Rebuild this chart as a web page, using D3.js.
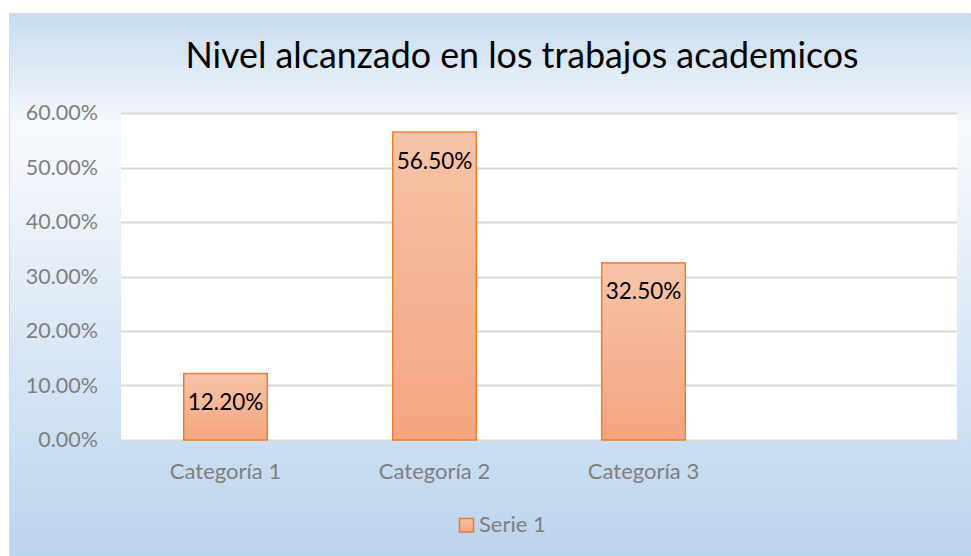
<!DOCTYPE html>
<html>
<head>
<meta charset="utf-8">
<script src="https://cdn.jsdelivr.net/npm/d3@7"></script>
<style>
  body { margin: 0; background: #fff; }
  #chart { width: 971px; height: 556px; }
  text { font-family: Lato, "Open Sans", sans-serif; }
</style>
</head>
<body>
<div id="chart"></div>
<script>
const categories = ["Categoría 1", "Categoría 2", "Categoría 3", ""];
const values = [0.122, 0.565, 0.325, null];
const yTicks = [0, 0.1, 0.2, 0.3, 0.4, 0.5, 0.6];
const seriesName = "Serie 1";
const title = "Nivel alcanzado en los trabajos academicos";

const W = 971, H = 556;
const plot = {left: 121, right: 957, top: 113, bottom: 440};

const svg = d3.select("#chart").append("svg")
    .attr("width", W)
    .attr("height", H);

const defs = svg.append("defs");
const bg = defs.append("linearGradient").attr("id", "bg")
    .attr("x1", 0).attr("y1", 0).attr("x2", 0).attr("y2", 1);
bg.append("stop").attr("offset", "0%").attr("stop-color", "#c7dcef");
bg.append("stop").attr("offset", "20%").attr("stop-color", "#f6f9fd");
bg.append("stop").attr("offset", "28%").attr("stop-color", "#f3f7fc");
bg.append("stop").attr("offset", "100%").attr("stop-color", "#b9d3ec");

const barGrad = defs.append("linearGradient").attr("id", "barGrad")
    .attr("x1", 0).attr("y1", 0).attr("x2", 0).attr("y2", 1);
barGrad.append("stop").attr("offset", "0%").attr("stop-color", "#f7c4a9");
barGrad.append("stop").attr("offset", "100%").attr("stop-color", "#f4a57f");

// chart area
svg.append("rect")
    .attr("x", 9.5).attr("y", 13.5)
    .attr("width", W).attr("height", H)
    .attr("fill", "url(#bg)")
    .attr("stroke", "#d9d9d9");

svg.append("rect")
    .attr("x", plot.left).attr("y", plot.top)
    .attr("width", plot.right - plot.left).attr("height", plot.bottom - plot.top)
    .attr("fill", "#fff");

const x = d3.scaleBand()
    .domain(categories)
    .range([plot.left, plot.right])
    .paddingInner(0.6)
    .paddingOuter(0.3);

const xCat = d3.scaleBand()
    .domain(categories)
    .range([plot.left, plot.right]);

const y = d3.scaleLinear()
    .domain([0, 0.6])
    .range([plot.bottom, plot.top]);

// gridlines
svg.append("g")
    .selectAll("line")
    .data(yTicks)
    .enter()
    .append("line")
    .attr("x1", plot.left).attr("x2", plot.right)
    .attr("y1", d => Math.round(y(d)) + 0.5)
    .attr("y2", d => Math.round(y(d)) + 0.5)
    .attr("stroke", "#d9d9d9")
    .attr("stroke-width", 2);

// y axis
const yAxis = svg.append("g")
    .attr("transform", `translate(${plot.left - 23},0)`)
    .call(d3.axisLeft(y).tickValues(yTicks).tickFormat(d3.format(".2%")).tickSize(0).tickPadding(0));
yAxis.select(".domain").remove();
yAxis.selectAll("text")
    .attr("fill", "#7f7f7f")
    .style("font-size", "21.5px")
    .style("font-family", "Lato, sans-serif");

// x axis
const xAxis = svg.append("g")
    .attr("transform", `translate(0,${plot.bottom})`)
    .call(d3.axisBottom(xCat).tickSize(0).tickPadding(23));
xAxis.select(".domain").remove();
xAxis.selectAll("text")
    .attr("fill", "#7f7f7f")
    .style("font-size", "22px")
    .style("font-family", "Lato, sans-serif");

// bars
const data = categories.map((c, i) => ({cat: c, value: values[i]})).filter(d => d.value != null);

svg.append("g")
    .selectAll("rect")
    .data(data)
    .enter()
    .append("rect")
    .attr("x", d => x(d.cat))
    .attr("y", d => y(d.value))
    .attr("width", x.bandwidth())
    .attr("height", d => y(0) - y(d.value))
    .attr("fill", "url(#barGrad)")
    .attr("stroke", "#ed7d31")
    .attr("stroke-width", 1.5);

svg.append("g")
    .selectAll("text")
    .data(data)
    .enter()
    .append("text")
    .attr("x", d => x(d.cat) + x.bandwidth() / 2)
    .attr("y", d => y(d.value) + 36.5)
    .attr("text-anchor", "middle")
    .attr("fill", "#000")
    .style("font-size", "22.5px")
    .text(d => d3.format(".2%")(d.value));

// title
svg.append("text")
    .attr("x", 522)
    .attr("y", 68)
    .attr("text-anchor", "middle")
    .attr("fill", "#000")
    .style("font-size", "35.8px")
    .text(title);

// legend
const legend = svg.append("g").attr("transform", "translate(459,518)");
legend.append("rect")
    .attr("x", 0.5).attr("y", 0.5)
    .attr("width", 14).attr("height", 13.5)
    .attr("fill", "url(#barGrad)")
    .attr("stroke", "#ed7d31")
    .attr("stroke-width", 1.5);
legend.append("text")
    .attr("x", 20)
    .attr("y", 14)
    .attr("fill", "#7f7f7f")
    .style("font-size", "22px")
    .text(seriesName);
</script>
</body>
</html>
